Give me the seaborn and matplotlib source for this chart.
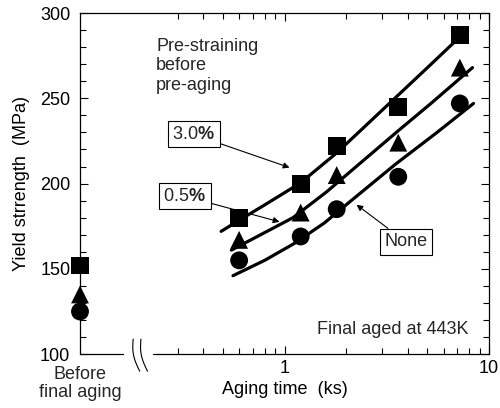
import matplotlib
matplotlib.use("Agg")
import matplotlib.pyplot as plt
import matplotlib.ticker as mticker
import seaborn as sns
import numpy as np
import pandas as pd

# measured points (aging time in ks, yield strength in MPa)
aging_time = [0.6, 1.2, 1.8, 3.6, 7.2]
ys_30 = [180, 200, 222, 245, 287]
ys_05 = [167, 183, 205, 224, 268]
ys_none = [155, 169, 185, 204, 247]

# before final aging
before_30 = 152
before_05 = 135
before_none = 125
before_x = 0.1

# fitted curves
fit_30_x = [0.49, 0.6, 0.8, 1.2, 1.8, 3.0, 5.0, 7.2]
fit_30_y = [172, 178.5, 187.5, 200.5, 218, 243, 268, 286]
fit_05_x = [0.55, 0.75, 1.1, 1.6, 2.4, 3.6, 5.2, 8.3]
fit_05_y = [161, 169.5, 180, 195, 213, 231, 247, 268]
fit_none_x = [0.56, 0.8, 1.12, 1.57, 1.93, 3.5, 5.5, 8.4]
fit_none_y = [146, 155, 165, 177, 186, 211.5, 229.5, 247]

series = ["3.0%", "0.5%", "None"]
markers = {"3.0%": "s", "0.5%": "^", "None": "o"}

sns.set_theme(style="ticks")
plt.rcParams["font.family"] = ["Liberation Sans", "DejaVu Sans"]
plt.rcParams["mathtext.fontset"] = "custom"
plt.rcParams["mathtext.rm"] = "Liberation Sans"
plt.rcParams["mathtext.bf"] = "Liberation Sans:bold"
plt.rcParams["lines.solid_joinstyle"] = "round"

pts = pd.DataFrame({
    "time": aging_time * 3 + [before_x] * 3,
    "ys": ys_30 + ys_05 + ys_none + [before_30, before_05, before_none],
    "strain": [s for s in series for _ in aging_time] + series,
})
fits = pd.concat([
    pd.DataFrame({"time": fit_30_x, "ys": fit_30_y, "strain": "3.0%"}),
    pd.DataFrame({"time": fit_05_x, "ys": fit_05_y, "strain": "0.5%"}),
    pd.DataFrame({"time": fit_none_x, "ys": fit_none_y, "strain": "None"}),
])

fig = plt.figure(figsize=(5, 4.08), dpi=100)
ax = fig.add_axes([0.16, 0.132, 0.818, 0.836])
ax.set_xscale("log")

black = {s: "black" for s in series}
sns.lineplot(data=fits, x="time", y="ys", hue="strain", palette=black,
             sort=False, lw=2.3, legend=False, ax=ax, zorder=3)
sns.scatterplot(data=pts, x="time", y="ys", style="strain", markers=markers,
                color="black", s=165, linewidth=0, legend=False, ax=ax,
                clip_on=False, zorder=5)

ax.set_xlim(0.1, 10)
ax.set_ylim(100, 300)

# ticks
ax.xaxis.set_major_locator(mticker.FixedLocator([1, 10]))
ax.xaxis.set_major_formatter(mticker.FixedFormatter(["1", "10"]))
ax.xaxis.set_minor_locator(mticker.FixedLocator(
    [0.3, 0.4, 0.5, 0.6, 0.7, 0.8, 0.9, 2, 3, 4, 5, 6, 7, 8, 9]))
ax.xaxis.set_minor_formatter(mticker.NullFormatter())
ax.yaxis.set_major_locator(mticker.MultipleLocator(50))
ax.yaxis.set_minor_locator(mticker.MultipleLocator(10))
ax.tick_params(which="both", direction="in", top=True, right=True,
               colors="black", labelsize=13, width=0.8)
ax.tick_params(which="major", length=6)
ax.tick_params(which="minor", length=4)
ax.tick_params(axis="y", pad=7)
ax.tick_params(axis="x", pad=4)

for sp in ax.spines.values():
    sp.set_color("black")
    sp.set_linewidth(0.9)
ax.spines["bottom"].set_visible(False)

# broken bottom axis
ax.plot([0, 0.105], [0, 0], transform=ax.transAxes, color="black",
        lw=0.9, clip_on=False)
ax.plot([0.178, 1], [0, 0], transform=ax.transAxes, color="black",
        lw=0.9, clip_on=False)
t = np.linspace(0, 1, 40)
for x0 in [0.138, 0.157]:
    ax.plot(x0 - 0.007 * np.sin(np.pi * t) + 0.016 * (t - 0.5),
            0.044 - 0.094 * t, transform=ax.transAxes, color="black",
            lw=0.8, clip_on=False)

ax.set_xlabel("Aging time  (ks)", fontsize=13, color="black", labelpad=3)
ax.set_ylabel("Yield strrength  (MPa)", fontsize=13, color="black", labelpad=7)

ax.text(before_x, -0.035, "Before\nfinal aging", transform=ax.get_xaxis_transform(),
        ha="center", va="top", fontsize=13, linespacing=1.05)

ax.text(0.236, 285.5, "Pre-straining\nbefore\npre-aging", ha="left", va="top",
        fontsize=13, linespacing=1.2)
ax.text(7.9, 111.8, "Final aged at 443K", ha="right", va="baseline", fontsize=13)

box = dict(boxstyle="square,pad=0.25", fc="white", ec="black", lw=0.8)
arrow = dict(arrowstyle="-|>", color="black", lw=0.8, mutation_scale=9,
             shrinkA=0, shrinkB=0)
ax.annotate("3.0$\\mathbf{\\%}$", xy=(1.058, 209.4), xytext=(0.36, 228.8),
            ha="center", va="center", fontsize=13, bbox=box, arrowprops=arrow)
ax.annotate("0.5$\\mathbf{\\%}$", xy=(0.945, 177.6), xytext=(0.325, 192.6),
            ha="center", va="center", fontsize=13, bbox=box, arrowprops=arrow)
ax.annotate("None", xy=(2.25, 187.6), xytext=(3.92, 165.9),
            ha="center", va="center", fontsize=13, bbox=box, arrowprops=arrow)

fig.savefig("out.png", dpi=100)
